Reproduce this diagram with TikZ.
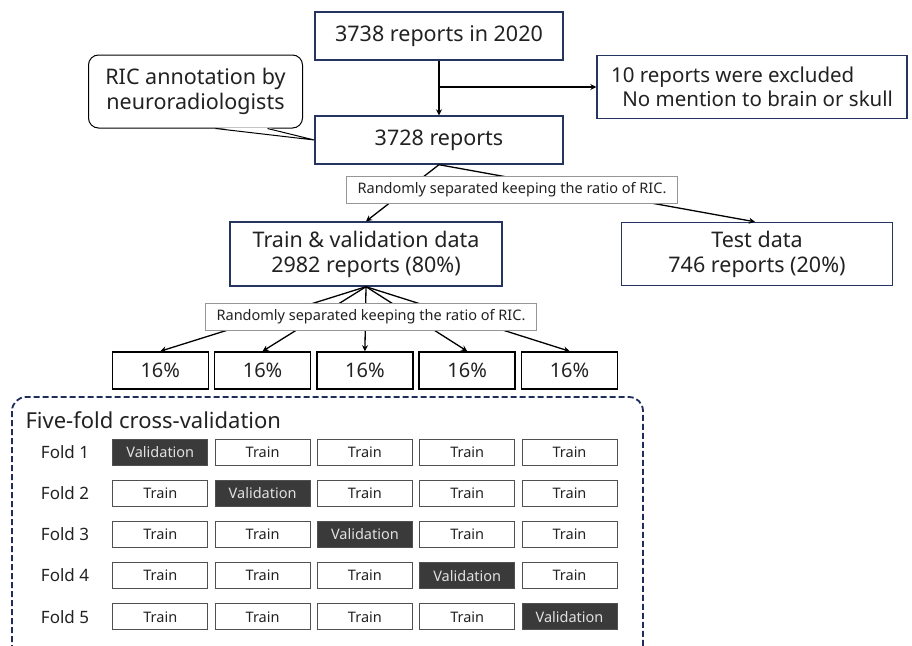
\documentclass[tikz,border=0pt]{standalone}
\usepackage{fontspec}
\setmainfont{Noto Sans}
\usepackage{xcolor}
\usetikzlibrary{arrows.meta, positioning, calc}

\definecolor{navyline}{RGB}{38,52,96}
\definecolor{dashnavy}{RGB}{30,45,90}
\definecolor{textgray}{RGB}{34,34,34}
\definecolor{valfill}{RGB}{58,58,58}
\definecolor{valtext}{RGB}{225,225,225}
\definecolor{cellline}{RGB}{80,80,80}
\definecolor{notegray}{RGB}{150,150,150}

\begin{document}
\begin{tikzpicture}[
    x=1pt, y=-1pt,
    text=textgray,
    mainbox/.style={rectangle, draw=navyline, line width=1.4pt, fill=white, align=center, font=\fontsize{21.5}{25}\selectfont, inner sep=2pt},
    notebox/.style={rectangle, draw=notegray, line width=0.9pt, fill=white, minimum width=331pt, minimum height=27pt, font=\fontsize{14.5}{17}\selectfont},
    pctbox/.style={rectangle, draw=black, line width=1.6pt, minimum width=96pt, minimum height=37pt, font=\fontsize{20}{24}\selectfont},
    cell/.style={rectangle, draw=cellline, line width=0.9pt, fill=white, minimum width=95pt, minimum height=26pt, font=\fontsize{14.5}{17}\selectfont},
    valcell/.style={cell, fill=valfill, text=valtext},
    arrow/.style={-{Stealth[length=6pt, width=6pt]}, line width=1.3pt},
]
\useasboundingbox (0,0) rectangle (912,645);

% top of the flow
\node[mainbox, minimum width=248pt, minimum height=48pt] (total)    at (439,36)  {3738 reports in 2020};
\node[mainbox, minimum width=310pt, minimum height=63pt, align=left, font=\fontsize{20.5}{24.5}\selectfont] (excluded) at (752,87)
    {10 reports were excluded\\\hspace{0.55em}No mention to brain or skull};
\node[mainbox, minimum width=248pt, minimum height=48pt] (reports)  at (439,140) {3728 reports};

% callout
\node[rectangle, draw=black, line width=1pt, rounded corners=10pt, fill=white, align=center,
      minimum width=214pt, minimum height=73pt, font=\fontsize{21.5}{25}\selectfont] (annot) at (195.5,91.5)
    {RIC annotation by\\neuroradiologists};
\coordinate (tailA) at ($(annot.south)+(20,0)$);
\coordinate (tailB) at ($(annot.south)+(72,0)$);
\fill[white] ($(tailA)+(0,-1)$) -- (reports.west) -- ($(tailB)+(0,-1)$) -- cycle;
\draw[line width=1pt] (tailA) -- (reports.west) -- (tailB);

\draw[arrow] (total) -- (reports);
\draw[arrow] (total.south |- excluded.west) -- (excluded.west);

% train / test split
\node[mainbox, minimum width=272pt, minimum height=64pt] (trainval) at (366,254) {Train \& validation data\\2982 reports (80\%)};
\node[mainbox, minimum width=271pt, minimum height=63pt] (test)     at (757,254) {Test data\\746 reports (20\%)};

\draw[arrow] (reports.south) -- (trainval.north);
\draw[arrow] (reports.south) -- ($(test.north)+(-2,0)$);
\node[notebox] (split1) at (512,190) {Randomly separated keeping the ratio of RIC.};

% five parts
\foreach \i in {1,...,5} {
  \node[pctbox] (p\i) at ({58+102.3*\i},370.5) {16\%};
  \draw[arrow] (trainval.south) -- (p\i.north);
}
\node[notebox] (split2) at (371,317) {Randomly separated keeping the ratio of RIC.};

% cross-validation panel
\draw[dashnavy, line width=1.8pt, dash pattern=on 6pt off 3pt, rounded corners=14pt]
    (12,397) rectangle (643,660);
\node[anchor=west, font=\fontsize{22}{26}\selectfont] (cvtitle) at (22,420) {Five-fold cross-validation};

\foreach \r in {1,...,5} {
  \node[font=\fontsize{17}{20}\selectfont] (fold\r) at (65,{452+41.2*(\r-1)}) {Fold \r};
  \foreach \c in {1,...,5} {
    \ifnum\r=\c
      \node[valcell] (c\r\c) at ({58+102.3*\c},{452+41.2*(\r-1)}) {Validation};
    \else
      \node[cell] (c\r\c) at ({58+102.3*\c},{452+41.2*(\r-1)}) {Train};
    \fi
  }
}

\end{tikzpicture}
\end{document}
